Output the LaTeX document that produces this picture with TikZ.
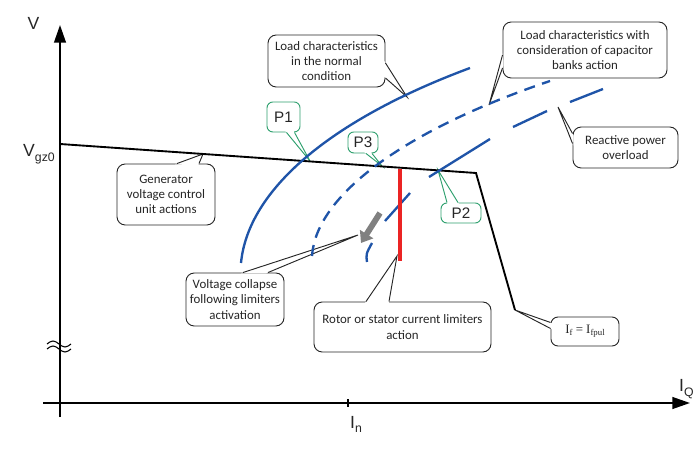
\documentclass[tikz,border=0pt]{standalone}
\usepackage{fontspec}
\setmainfont{Carlito}
\newfontfamily\arialfont{Liberation Sans}
\newfontfamily\timesfont{Liberation Serif}
\usepackage{xcolor}
\usepackage{tikz}
\usetikzlibrary{calc}
\usetikzlibrary{arrows.meta}

\definecolor{curveblue}{RGB}{31,84,168}
\definecolor{markgreen}{RGB}{46,160,110}
\definecolor{limitred}{RGB}{235,36,36}

\tikzset{
  note/.style={draw=black!85, fill=white, line width=0.8pt, rounded corners=7pt,
    align=center, inner sep=0pt, text=black!85, font=\fontsize{11}{13}\selectfont},
  pnote/.style={draw=markgreen, fill=white, line width=0.8pt, rounded corners=5pt,
    inner sep=0pt, text=black!85, font=\arialfont\fontsize{13}{14}\selectfont},
  load/.style={curveblue, line width=2pt},
  axis/.style={line width=1.6pt, -{Triangle[length=15pt,width=10pt]}},
  axlabel/.style={inner sep=0pt, text=black!85, font=\arialfont\fontsize{15}{16}\selectfont},
}

% subscript for the axis labels
\newcommand{\axsub}[1]{\raisebox{-0.5ex}{\fontsize{10.5}{10.5}\selectfont #1}}

% wedge of a callout: colour, base point, tip, base point
\newcommand{\notepointer}[4]{%
  \path #2 coordinate (pa) #3 coordinate (ptip) #4 coordinate (pb);
  \fill[white] ($(pa)!-2pt!(ptip)$) -- (ptip) -- ($(pb)!-2pt!(ptip)$) -- cycle;
  \draw[#1, line width=0.8pt] (pa) -- (ptip) -- (pb);
}

\begin{document}
\begin{tikzpicture}[x=0.03cm, y=-0.03cm]
\useasboundingbox (0,0) rectangle (694,456);

% Points on the curves
\coordinate (vg) at (60,144);
\coordinate (knee) at (476,173);
\coordinate (limend) at (515,310);

% Callouts
\node[note, minimum width=3.51cm, minimum height=1.56cm] (normal) at (326.5,61)
  {Load characteristics\\in the normal\\condition};
\notepointer{black!85}{($(normal.east)+(0,2)$)}{(407,97)}{($(normal.east)+(0,17)$)}

\node[note, minimum width=4.92cm, minimum height=1.68cm] (capacitor) at (585,50)
  {Load characteristics with\\consideration of capacitor\\banks action};
\notepointer{black!85}{($(capacitor.west)+(0,5)$)}{(489,105)}{($(capacitor.west)+(0,18)$)}

\node[note, minimum width=3.15cm, minimum height=1.23cm] (overload) at (625.5,147.5)
  {Reactive power\\overload};
\notepointer{black!85}{($(overload.west)+(0,-14)$)}{(558,107)}{($(overload.west)+(0,-4)$)}

\node[note, minimum width=2.94cm, minimum height=1.83cm] (generator) at (166,194.5)
  {Generator\\voltage control\\unit actions};
\notepointer{black!85}{($(generator.north)+(11,0)$)}{(203,154)}{($(generator.north)+(33,0)$)}

\node[note, minimum width=2.94cm, minimum height=1.59cm] (collapse) at (235,299.5)
  {Voltage collapse\\following limiters\\activation};
\notepointer{black!85}{($(collapse.north)+(8,0)$)}{(358,235)}{($(collapse.north)+(33,0)$)}

\node[note, minimum width=5.31cm, minimum height=1.5cm] (rotor) at (402.5,327)
  {Rotor or stator current limiters\\action};
\notepointer{black!85}{($(rotor.north)+(-36.5,0)$)}{(397,256)}{($(rotor.north)+(-13.5,0)$)}

\node[note, rounded corners=6pt, minimum width=2.04cm, minimum height=0.87cm] (ifpul) at (585,331.5)
  {\timesfont\fontsize{11}{12}\selectfont I\raisebox{-0.4ex}{\fontsize{7.5}{7.5}\selectfont f} = I\raisebox{-0.4ex}{\fontsize{7.5}{7.5}\selectfont fpul}};
\notepointer{black!85}{($(ifpul.west)+(0,-9)$)}{(limend)}{($(ifpul.west)+(0,-3)$)}

% Operating points
\node[pnote, minimum width=0.99cm, minimum height=0.9cm] (p1) at (283.5,117) {P1};
\notepointer{markgreen}{($(p1.south)+(3,0)$)}{(310,161)}{($(p1.south)+(11,0)$)}

\node[pnote, minimum width=0.9cm, minimum height=0.63cm] (p3) at (363,142.5) {P3};
\notepointer{markgreen}{($(p3.south)+(3,0)$)}{(382,166)}{($(p3.south)+(9,0)$)}

\node[pnote, minimum width=1.2cm, minimum height=0.6cm] (p2) at (461,213) {P2};
\notepointer{markgreen}{($(p2.north)+(-14,0)$)}{(438,170)}{($(p2.north)+(-3,0)$)}

% Axes
\draw[axis] (60,417) -- (60,25);
\draw[axis] (43,403) -- (690,403);
\node[axlabel, anchor=base] (vlab) at (33.5,30) {V};
\node[axlabel, anchor=base east] (vgz) at (55,157) {V\axsub{gz0}};
\node[axlabel, anchor=base west] (iq) at (679,392) {I\axsub{Q}};
\node[axlabel, anchor=base west] (in) at (350,428) {I\axsub{n}};
\draw[line width=2.5pt] (348,399) -- (348,407);

% Axis break
\foreach \dy in {0,5}
  \draw[line width=0.9pt] (47,344+\dy) sin (53,341+\dy) cos (59,344+\dy) sin (65,347+\dy) cos (71,344+\dy);

% Generator characteristic
\draw[line width=1.6pt] (vg) -- (knee) -- (limend);

% Load characteristics
\draw[load] (241,263) .. controls (248,190) and (330,120) .. (470,68);
\draw[load, dash pattern=on 9.5pt off 6.5pt] (312,256) .. controls (316,195) and (405,130) .. (550,81);
\draw[load] (367,262) .. controls (366,254) .. (372,243);
\draw[load] (385,221) -- (410,193);
\draw[load] (429,177) -- (490,139);
\draw[load] (513,127) -- (547,111);
\draw[load] (570,102) -- (603,89);

% Current limiters
\draw[limitred, line width=2.6pt] (400,169) -- (400,261);

% Collapse direction
\draw[black!50, line width=5pt, -{Triangle[length=9pt,width=13pt]}] (380,213) -- (361,243);

\end{tikzpicture}
\end{document}
